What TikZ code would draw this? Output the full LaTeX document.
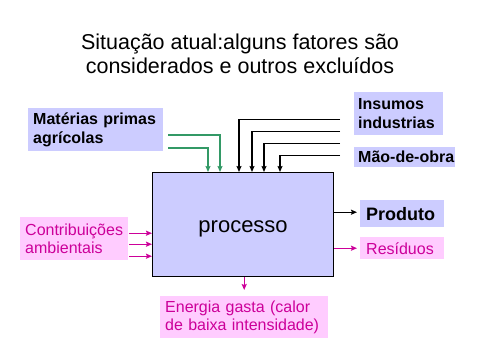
\documentclass[tikz,border=0pt]{standalone}
\usepackage{fontspec}
\setmainfont{Liberation Sans}
\usetikzlibrary{arrows.meta}
\definecolor{sitlav}{RGB}{204,204,255}
\definecolor{sitpink}{RGB}{255,204,255}
\definecolor{sitmag}{RGB}{204,0,153}
\definecolor{sitgreen}{RGB}{51,153,102}
\tikzset{
    sittitle/.style={align=center, font=\fontsize{21.5}{24}\selectfont},
    sitinput/.style={anchor=north west, inner xsep=4pt, inner ysep=0pt, align=left, fill=sitlav, font=\fontsize{16}{18.4}\selectfont\bfseries},
    sitenv/.style={anchor=north west, inner xsep=5pt, inner ysep=0pt, align=left, fill=sitpink, text=sitmag, font=\fontsize{16}{18.4}\selectfont},
    sitproc/.style={anchor=north west, draw, line width=1.2pt, fill=sitlav, minimum width=181pt, minimum height=104pt, text height=16pt, text depth=0pt, font=\fontsize{22}{24}\selectfont},
    sitarrow/.style={draw, line width=1.4pt, -{Stealth[length=6pt, width=5pt, inset=1pt]}},
    sitline/.style={draw, line width=1.4pt}
}
\begin{document}
\begin{tikzpicture}[x=1pt, y=-1pt]
    \useasboundingbox (0,0) rectangle (480,360);
    \node[sittitle] (title) at (240,54) {Situação atual:alguns fatores são\\considerados e outros excluídos};

    \node[sitproc] (proc) at (152,172) {processo};

    \node[sitinput, inner xsep=5pt, text width=125pt, minimum height=43pt] (mat) at (28,108) {Matérias primas\\agrícolas};
    \node[sitinput, text width=81pt, minimum height=43pt] (ins) at (354,92) {Insumos\\industrias};
    \node[sitinput, text width=93pt, minimum height=20pt] (mao) at (354,147) {\mbox{Mão-de-obra}};
    \node[sitinput, inner xsep=6pt, text width=72pt, minimum height=27pt, font=\fontsize{18}{20}\selectfont\bfseries] (prod) at (360,200) {Produto};

    \node[sitenv, text width=98pt, minimum height=43pt] (contrib) at (20,217) {Contribuições\\ambientais};
    \node[sitenv, inner xsep=6pt, text width=72pt, minimum height=22pt] (res) at (360,237) {Resíduos};
    \node[sitenv, text width=158pt, minimum height=42pt] (energ) at (160,296) {Energia gasta (calor\\de baixa intensidade)};

    % entradas consideradas
    \coordinate (m1) at ([xshift=5pt, yshift=-27pt]mat.north east);
    \coordinate (m2) at ([xshift=5pt, yshift=-40pt]mat.north east);
    \draw[sitarrow, sitgreen] (m1) -| ([xshift=68pt]proc.north west);
    \draw[sitarrow, sitgreen] (m2) -| ([xshift=56pt]proc.north west);

    \coordinate (i1) at ([xshift=-14pt, yshift=-5.5pt]ins.west);
    \coordinate (i2) at ([xshift=-14pt, yshift=-17.5pt]ins.west);
    \coordinate (i3) at ([xshift=-14pt, yshift=-29.5pt]ins.west);
    \coordinate (i4) at ([xshift=-14pt, yshift=2pt]mao.west);
    \draw[sitarrow] (i1) -| ([xshift=87pt]proc.north west);
    \draw[sitarrow] (i2) -| ([xshift=100pt]proc.north west);
    \draw[sitarrow] (i3) -| ([xshift=112pt]proc.north west);
    \draw[sitarrow] (i4) -| ([xshift=128pt]proc.north west);

    % entradas excluidas
    \coordinate (c1) at ([xshift=1pt, yshift=5.5pt]contrib.east);
    \coordinate (c2) at ([xshift=1pt, yshift=-5.5pt]contrib.east);
    \coordinate (c3) at ([xshift=1pt, yshift=-17.5pt]contrib.east);
    \draw[sitarrow, sitmag] (c1) -- (c1 -| proc.west);
    \draw[sitarrow, sitmag] (c2) -- (c2 -| proc.west);
    \draw[sitarrow, sitmag] (c3) -- (c3 -| proc.west);

    % saidas
    \draw[sitarrow] ([yshift=1.5pt]proc.east |- prod.west) -- ([xshift=-3pt, yshift=1.5pt]prod.west);
    \draw[sitarrow, sitmag] (proc.east |- res.west) -- ([xshift=-3pt]res.west);
    \draw[sitarrow, sitmag] (proc.south -| energ.north) -- ([yshift=6pt]energ.north);
\end{tikzpicture}
\end{document}
